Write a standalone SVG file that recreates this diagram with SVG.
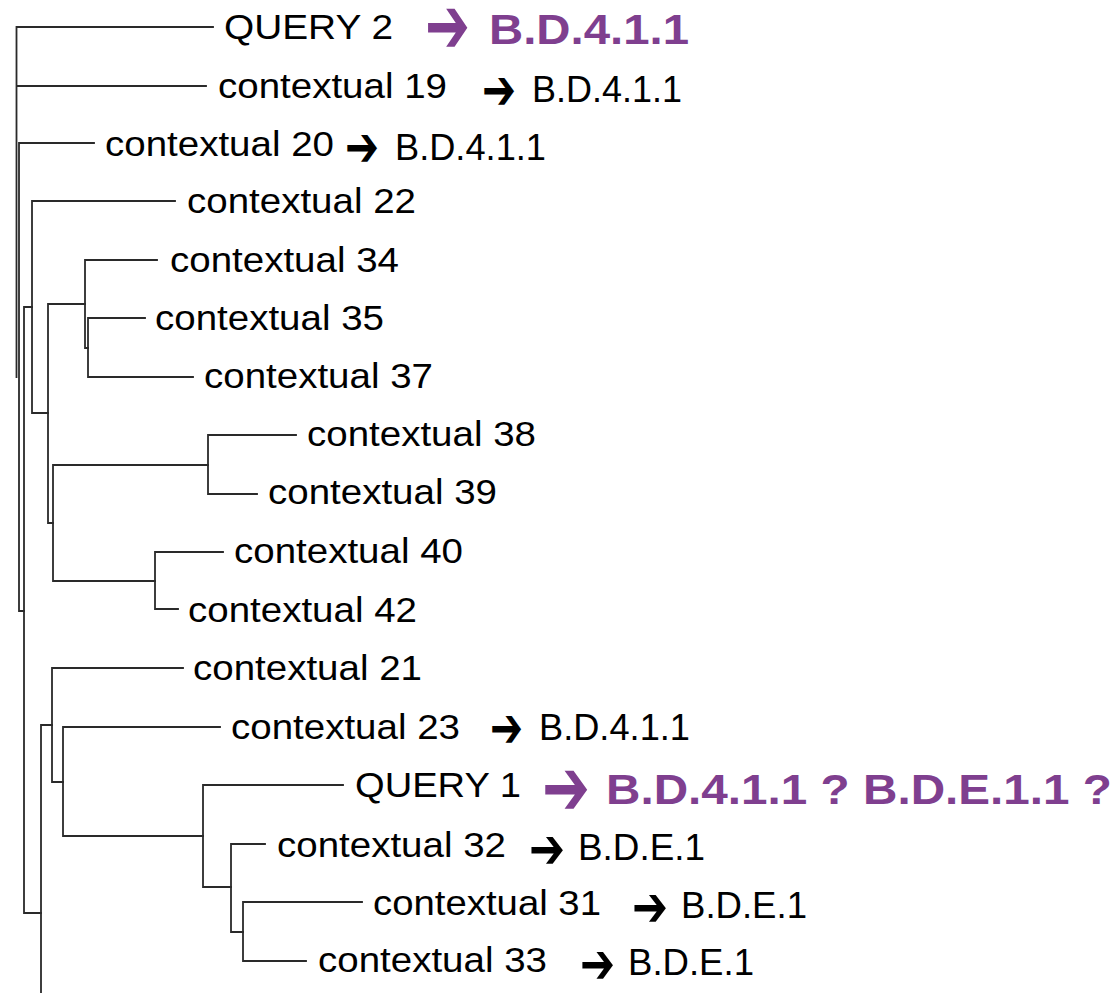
<svg xmlns="http://www.w3.org/2000/svg" width="1119" height="993" viewBox="0 0 1119 993">
<style>
.bg{fill:#ffffff}
.lbl{font-family:"Liberation Sans",Arial,sans-serif;font-size:35px;fill:#000}
.cls{font-family:"Liberation Sans",Arial,sans-serif;font-size:36px;fill:#000}
.big{font-family:"Liberation Sans",Arial,sans-serif;font-size:43px;font-weight:bold;fill:#7f3f8f}
.arr{font-family:"DejaVu Sans",sans-serif;font-size:56px;font-weight:bold;fill:#000}
.parr{font-family:"DejaVu Sans",sans-serif;font-size:80px;font-weight:bold;fill:#7f3f8f}
.tree{fill:none;stroke:#2a2a2a;stroke-width:1.8;stroke-linecap:square}
</style>
<rect class="bg" x="0" y="0" width="1119" height="993"/>
<g id="connectors" class="tree">
<path d="M16.5 27V377M16.5 27H213M16.5 86H206"/>
<path d="M19 143V611M19 143H94M19 611H24"/>
<path d="M24 307V913M24 307H32M24 913H41"/>
<path d="M32 201V413M32 201H175M32 413H48"/>
<path d="M48 304V523M48 304H85M48 523H53"/>
<path d="M85 260V348M85 260H157M85 348H88"/>
<path d="M88 318V377M88 318H145M88 377H193"/>
<path d="M53 465V581M53 465H208M53 581H155"/>
<path d="M208 435V494M208 435H296M208 494H257"/>
<path d="M155 552V609M155 552H223M155 609H178"/>
<path d="M41 725V995M41 725H52"/>
<path d="M52 668V782M52 668H183M52 782H63"/>
<path d="M63 727V836M63 727H220M63 836H203"/>
<path d="M203 785V887M203 785H343M203 887H231"/>
<path d="M231 844V932M231 844H265M231 932H243"/>
<path d="M243 902V961M243 902H362M243 961H306"/>
</g>
<g id="query2">
<text class="lbl" x="224" y="39" textLength="169" lengthAdjust="spacingAndGlyphs">QUERY 2</text>
<text class="parr" x="425" y="53" textLength="45" lengthAdjust="spacingAndGlyphs">➔</text>
<text class="big" x="489" y="44" textLength="200" lengthAdjust="spacingAndGlyphs">B.D.4.1.1</text>
</g>
<g id="contextual19">
<text class="lbl" x="218" y="98" textLength="229" lengthAdjust="spacingAndGlyphs">contextual 19</text>
<text class="arr" x="482" y="109" textLength="34" lengthAdjust="spacingAndGlyphs">➔</text>
<text class="cls" x="532" y="102" textLength="150" lengthAdjust="spacingAndGlyphs">B.D.4.1.1</text>
</g>
<g id="contextual20">
<text class="lbl" x="105" y="156" textLength="229" lengthAdjust="spacingAndGlyphs">contextual 20</text>
<text class="arr" x="345" y="166" textLength="34" lengthAdjust="spacingAndGlyphs">➔</text>
<text class="cls" x="395" y="160" textLength="151" lengthAdjust="spacingAndGlyphs">B.D.4.1.1</text>
</g>
<g id="contextual22"><text class="lbl" x="187" y="213" textLength="229" lengthAdjust="spacingAndGlyphs">contextual 22</text></g>
<g id="contextual34"><text class="lbl" x="170" y="272" textLength="229" lengthAdjust="spacingAndGlyphs">contextual 34</text></g>
<g id="contextual35"><text class="lbl" x="155" y="330" textLength="229" lengthAdjust="spacingAndGlyphs">contextual 35</text></g>
<g id="contextual37"><text class="lbl" x="204" y="388" textLength="229" lengthAdjust="spacingAndGlyphs">contextual 37</text></g>
<g id="contextual38"><text class="lbl" x="307" y="446" textLength="229" lengthAdjust="spacingAndGlyphs">contextual 38</text></g>
<g id="contextual39"><text class="lbl" x="268" y="504" textLength="229" lengthAdjust="spacingAndGlyphs">contextual 39</text></g>
<g id="contextual40"><text class="lbl" x="234" y="563" textLength="229" lengthAdjust="spacingAndGlyphs">contextual 40</text></g>
<g id="contextual42"><text class="lbl" x="188" y="622" textLength="229" lengthAdjust="spacingAndGlyphs">contextual 42</text></g>
<g id="contextual21"><text class="lbl" x="193" y="680" textLength="229" lengthAdjust="spacingAndGlyphs">contextual 21</text></g>
<g id="contextual23">
<text class="lbl" x="231" y="739" textLength="229" lengthAdjust="spacingAndGlyphs">contextual 23</text>
<text class="arr" x="490" y="747" textLength="33" lengthAdjust="spacingAndGlyphs">➔</text>
<text class="cls" x="539" y="740" textLength="151" lengthAdjust="spacingAndGlyphs">B.D.4.1.1</text>
</g>
<g id="query1">
<text class="lbl" x="355" y="797" textLength="166" lengthAdjust="spacingAndGlyphs">QUERY 1</text>
<text class="parr" x="542" y="815" textLength="48" lengthAdjust="spacingAndGlyphs">➔</text>
<text class="big" x="606" y="804" textLength="506" lengthAdjust="spacingAndGlyphs">B.D.4.1.1 ? B.D.E.1.1 ?</text>
</g>
<g id="contextual32">
<text class="lbl" x="277" y="857" textLength="229" lengthAdjust="spacingAndGlyphs">contextual 32</text>
<text class="arr" x="529" y="868" textLength="36" lengthAdjust="spacingAndGlyphs">➔</text>
<text class="cls" x="578" y="860" textLength="127" lengthAdjust="spacingAndGlyphs">B.D.E.1</text>
</g>
<g id="contextual31">
<text class="lbl" x="373" y="915" textLength="228" lengthAdjust="spacingAndGlyphs">contextual 31</text>
<text class="arr" x="632" y="926" textLength="36" lengthAdjust="spacingAndGlyphs">➔</text>
<text class="cls" x="681" y="918" textLength="126" lengthAdjust="spacingAndGlyphs">B.D.E.1</text>
</g>
<g id="contextual33">
<text class="lbl" x="318" y="972" textLength="229" lengthAdjust="spacingAndGlyphs">contextual 33</text>
<text class="arr" x="580" y="983" textLength="35" lengthAdjust="spacingAndGlyphs">➔</text>
<text class="cls" x="628" y="975" textLength="126" lengthAdjust="spacingAndGlyphs">B.D.E.1</text>
</g>
</svg>
